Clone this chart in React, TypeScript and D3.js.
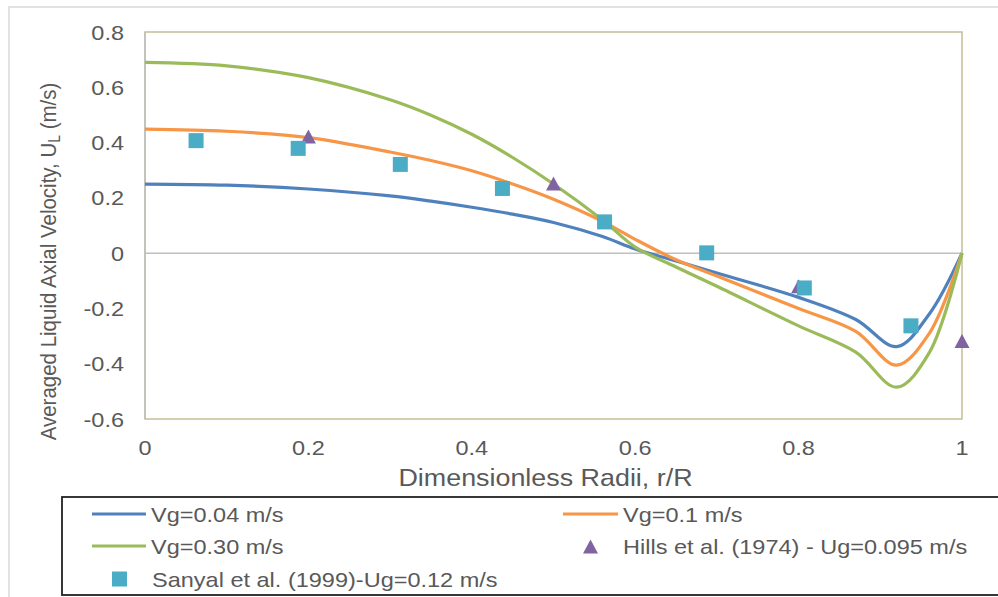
import React from "react";
import * as d3 from "d3";

const radii = [0, 0.1, 0.2, 0.3, 0.35, 0.4, 0.45, 0.5, 0.56, 0.6, 0.65, 0.7, 0.8, 0.87, 0.92, 0.96, 1.0];
const vg004 = [0.25, 0.246, 0.232, 0.207, 0.188, 0.166, 0.141, 0.111, 0.06, 0.015, -0.028, -0.072, -0.16, -0.24, -0.338, -0.22, 0];
const vg01 = [0.449, 0.441, 0.418, 0.366, 0.335, 0.298, 0.25, 0.195, 0.115, 0.05, -0.024, -0.083, -0.2, -0.283, -0.405, -0.29, 0];
const vg030 = [0.69, 0.6775, 0.635, 0.555, 0.499, 0.43, 0.346, 0.25, 0.12, 0.022, -0.05, -0.12, -0.263, -0.358, -0.485, -0.36, 0];

const hillsR = [0.2, 0.5, 0.8, 1.0];
const hillsU = [0.42, 0.25, -0.122, -0.32];

const sanyalR = [0.0625, 0.1875, 0.3125, 0.4375, 0.5625, 0.6875, 0.807, 0.9375];
const sanyalU = [0.407, 0.379, 0.321, 0.234, 0.113, 0.001, -0.126, -0.263];

const xTicks = [0, 0.2, 0.4, 0.6, 0.8, 1];
const yTicks = [-0.6, -0.4, -0.2, 0, 0.2, 0.4, 0.6, 0.8];

const lineSeries = [
  { name: "Vg=0.04 m/s", values: vg004, color: "#4f81bd" },
  { name: "Vg=0.1 m/s", values: vg01, color: "#f79646" },
  { name: "Vg=0.30 m/s", values: vg030, color: "#9bbb59" },
];

const SX = 1.12;
const TXT = "#595959";
const FONT = "Arial, 'Liberation Sans', sans-serif";

function T({ x, y, size, anchor = "start", children }: any) {
  return (
    <text
      transform={`translate(${x},${y}) scale(${SX},1)`}
      fontSize={size}
      textAnchor={anchor}
      fill={TXT}
      fontFamily={FONT}
    >
      {children}
    </text>
  );
}

const fmt = (t: number) => String(+t.toFixed(1));

export default function App() {
  const W = 998, H = 597;
  const L = 145, R = 962, TOP = 32, BOT = 419;
  const x = d3.scaleLinear().domain([0, 1]).range([L, R]);
  const y = d3.scaleLinear().domain([-0.6, 0.8]).range([BOT, TOP]);
  const line = d3
    .line<[number, number]>()
    .x((d) => x(d[0]))
    .y((d) => y(d[1]))
    .curve(d3.curveCatmullRom.alpha(0.5));

  const tri = (cx: number, cy: number, s = 15) =>
    `M${cx},${cy - s / 2}L${cx + s / 2},${cy + s / 2 - 1}L${cx - s / 2},${cy + s / 2 - 1}Z`;

  return (
    <div style={{ position: "absolute", left: 0, top: 0 }}>
      <svg width={W} height={H} style={{ display: "block", background: "#fff" }}>
        <rect x={9} y={7} width={W} height={H} fill="#fff" stroke="#d9d9d9" strokeWidth={1.5} />
        <rect x={L} y={TOP} width={R - L} height={BOT - TOP} fill="none" stroke="#c4bd97" strokeWidth={1.5} />
        <line x1={L} x2={L} y1={TOP} y2={BOT} stroke="#bfbfbf" strokeWidth={1.5} />
        <line x1={L} x2={R} y1={y(0)} y2={y(0)} stroke="#bfbfbf" strokeWidth={1.5} />

        {yTicks.map((t) => (
          <T key={"y" + t} x={124} y={y(t) + 7.5} size={21} anchor="end">
            {fmt(t)}
          </T>
        ))}
        {xTicks.map((t) => (
          <T key={"x" + t} x={x(t)} y={BOT + 36} size={21} anchor="middle">
            {fmt(t)}
          </T>
        ))}

        <T x={(L + R) / 2 - 8} y={486} size={24} anchor="middle">
          Dimensionless Radii, r/R
        </T>
        <text
          transform={`translate(56,261.5) rotate(-90) scale(1,1.12)`}
          fontSize={20.5}
          textAnchor="middle"
          fill={TXT}
          fontFamily={FONT}
        >
          Averaged Liquid Axial Velocity, U
          <tspan fontSize={14} dy={4}>L</tspan>
          <tspan dy={-4}> (m/s)</tspan>
        </text>

        {lineSeries.map((s) => (
          <path
            key={s.name}
            d={line(radii.map((r, i) => [r, s.values[i]] as [number, number])) || ""}
            fill="none"
            stroke={s.color}
            strokeWidth={3.2}
            strokeLinejoin="round"
          />
        ))}

        {hillsR.map((r, i) => (
          <path key={"h" + i} d={tri(x(r), y(hillsU[i]))} fill="#8064a2" />
        ))}
        {sanyalR.map((r, i) => (
          <rect key={"s" + i} x={x(r) - 7.5} y={y(sanyalU[i]) - 7.5} width={15} height={15} fill="#4bacc6" />
        ))}

        <rect x={62} y={497} width={W} height={98} fill="#fff" stroke="#222" strokeWidth={1.8} />
        <line x1={92} x2={146} y1={514} y2={514} stroke="#4f81bd" strokeWidth={3.2} />
        <T x={151} y={521.5} size={21}>Vg=0.04 m/s</T>
        <line x1={563} x2={618} y1={514} y2={514} stroke="#f79646" strokeWidth={3.2} />
        <T x={623} y={521.5} size={21}>Vg=0.1 m/s</T>
        <line x1={92} x2={146} y1={546} y2={546} stroke="#9bbb59" strokeWidth={3.2} />
        <T x={151} y={553.5} size={21}>Vg=0.30 m/s</T>
        <path d={tri(590.5, 547)} fill="#8064a2" />
        <T x={623} y={553.5} size={21}>Hills et al. (1974) - Ug=0.095 m/s</T>
        <rect x={112} y={571.5} width={15} height={15} fill="#4bacc6" />
        <T x={152} y={586.5} size={21}>Sanyal et al. (1999)-Ug=0.12 m/s</T>
      </svg>
    </div>
  );
}
